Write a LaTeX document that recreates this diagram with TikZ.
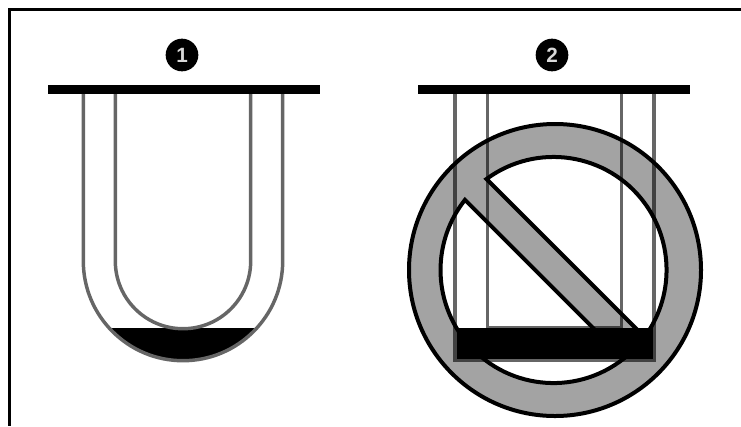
\documentclass[tikz,border=0pt]{standalone}
\usepackage{fontspec}
\setsansfont{Liberation Sans}
\usepackage{tikz}
\usetikzlibrary{positioning}
\definecolor{tubegray}{HTML}{666666}

\begin{document}
\begin{tikzpicture}[
    x=0.75pt, y=-0.75pt,
    tubeline/.style={draw=tubegray, line width=2.6pt},
    rail/.style={draw=black, line width=7pt},
    mynum/.style={circle, fill=black, text=white!85!black, minimum size=24.5pt, inner sep=0pt, font=\sffamily\bfseries\fontsize{15.5}{15.5}\selectfont},
    signring/.style={draw=black, line width=3pt, fill=black, fill opacity=0.36, even odd rule, miter limit=10}
]
\useasboundingbox (0,0) rectangle (741,426);
\draw[line width=2.2pt] (741,9.5) -- (9.5,9.5) -- (9.5,426);

% left tube
\node[mynum] (one) at (182,55) {1};
\fill (256.8,328) arc[start angle=42.2, end angle=137.8, radius=99.7] -- cycle;
\draw[tubeline] (83.3,89) -- (83.3,261) arc[start angle=180, end angle=0, radius=99.7] -- (282.7,89);
\draw[tubeline] (115.3,89) -- (115.3,261) arc[start angle=180, end angle=0, radius=67.7] -- (250.7,89);
\draw[rail] (48,89.5) -- (320,89.5);

% right tube
\node[mynum] (two) at (552,55) {2};
\draw[tubeline] (455,89) -- (455,360) -- (654,360) -- (654,89);
\draw[tubeline] (487.3,89) -- (487.3,328) -- (621.7,328) -- (621.7,89);
\fill (456.5,328) rectangle (652.5,358.5);
\draw[rail] (418,89.5) -- (690,89.5);

% no-entry sign on top
\draw[signring] (555,270) circle[radius=146]
    (486.5,179) arc[start angle=233.6, end angle=396.4, radius=113] -- cycle
    (623.7,358.6) arc[start angle=51.6, end angle=218.4, radius=113] -- cycle;
\end{tikzpicture}
\end{document}
